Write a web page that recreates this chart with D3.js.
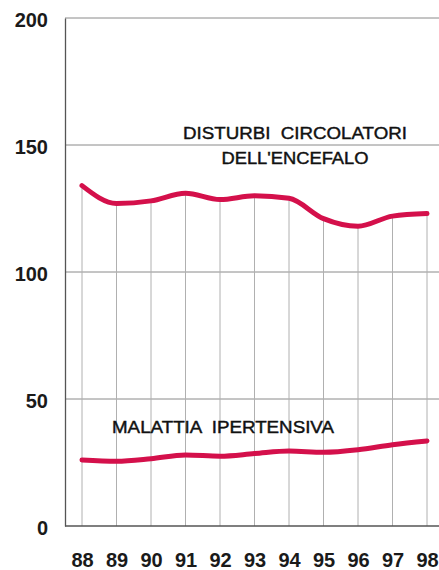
<!DOCTYPE html>
<html>
<head>
<meta charset="utf-8">
<script src="https://cdn.jsdelivr.net/npm/d3@7"></script>
<style>
  body { margin: 0; background: #fff; }
  svg { display: block; font-family: "Liberation Sans", Arial, sans-serif; }
</style>
</head>
<body>
<div id="chart"></div>
<script>
// data
var years = [88, 89, 90, 91, 92, 93, 94, 95, 96, 97, 98];
var disturbi = [134, 127, 128, 131, 128.5, 130, 129, 121, 118, 122, 123];
var ipertensiva = [26, 25.5, 26.5, 28, 27.5, 28.5, 29.5, 29, 30, 32, 33.5];
var yTicks = [0, 50, 100, 150, 200];

var width = 439, height = 570;

var svg = d3.select("#chart")
  .append("svg")
    .attr("width", width)
    .attr("height", height);

var x = d3.scaleLinear()
  .domain([88, 98])
  .range([82, 427]);

var y = d3.scaleLinear()
  .domain([0, 200])
  .range([526, 18]);

var left = 65, right = width;

// horizontal grid lines
svg.append("g")
  .selectAll("line")
  .data(yTicks.filter(function(d) { return d > 0; }))
  .enter().append("line")
    .attr("x1", left)
    .attr("x2", right)
    .attr("y1", function(d) { return y(d); })
    .attr("y2", function(d) { return y(d); })
    .attr("stroke", "#8a8a8a")
    .attr("stroke-width", 1);

// vertical drop lines from 0 to the upper curve
svg.append("g")
  .selectAll("line")
  .data(years)
  .enter().append("line")
    .attr("x1", function(d) { return x(d); })
    .attr("x2", function(d) { return x(d); })
    .attr("y1", y(0))
    .attr("y2", function(d, i) { return y(disturbi[i]); })
    .attr("stroke", "#b0b0b0")
    .attr("stroke-width", 1);

// y axis
var yAxis = svg.append("g")
  .attr("transform", "translate(" + left + ",0)")
  .call(d3.axisLeft(y).tickValues(yTicks).tickSize(0).tickPadding(17));
yAxis.select(".domain").attr("stroke", "#555").attr("stroke-width", 1.3);
yAxis.selectAll("text")
  .attr("font-size", "20px")
  .attr("font-weight", "bold")
  .attr("fill", "#1a1a1a")
  .attr("dy", "0.42em")
  .attr("font-family", "Liberation Sans, Arial, sans-serif");

// x axis
var xAxis = svg.append("g")
  .attr("transform", "translate(0," + y(0) + ")")
  .call(d3.axisBottom(x).tickValues(years).tickSize(0).tickPadding(27).tickFormat(d3.format("d")));
xAxis.select(".domain").attr("d", "M" + left + ",0H" + right).attr("stroke", "#555").attr("stroke-width", 1.3);
xAxis.selectAll("text")
  .attr("font-size", "20px")
  .attr("font-weight", "bold")
  .attr("fill", "#1a1a1a")
  .attr("font-family", "Liberation Sans, Arial, sans-serif");

// the two series
var line = d3.line()
  .x(function(d, i) { return x(years[i]); })
  .y(function(d) { return y(d); })
  .curve(d3.curveMonotoneX);

[disturbi, ipertensiva].forEach(function(s) {
  svg.append("path")
    .datum(s)
    .attr("d", line)
    .attr("fill", "none")
    .attr("stroke", "#d4104b")
    .attr("stroke-width", 5)
    .attr("stroke-linejoin", "round")
    .attr("stroke-linecap", "round");
});

// labels
var labels = [
  {text: "DISTURBI  CIRCOLATORI", x: 295, y: 139, len: 224},
  {text: "DELL'ENCEFALO", x: 295, y: 164, len: 147},
  {text: "MALATTIA  IPERTENSIVA", x: 223, y: 433, len: 222}
];
svg.append("g")
  .selectAll("text")
  .data(labels)
  .enter().append("text")
    .attr("x", function(d) { return d.x; })
    .attr("y", function(d) { return d.y; })
    .attr("text-anchor", "middle")
    .attr("font-size", "16px")
    .attr("fill", "#111")
    .attr("stroke", "#111")
    .attr("stroke-width", 0.4)
    .attr("textLength", function(d) { return d.len; })
    .attr("lengthAdjust", "spacingAndGlyphs")
    .style("white-space", "pre")
    .text(function(d) { return d.text; });
</script>
</body>
</html>
